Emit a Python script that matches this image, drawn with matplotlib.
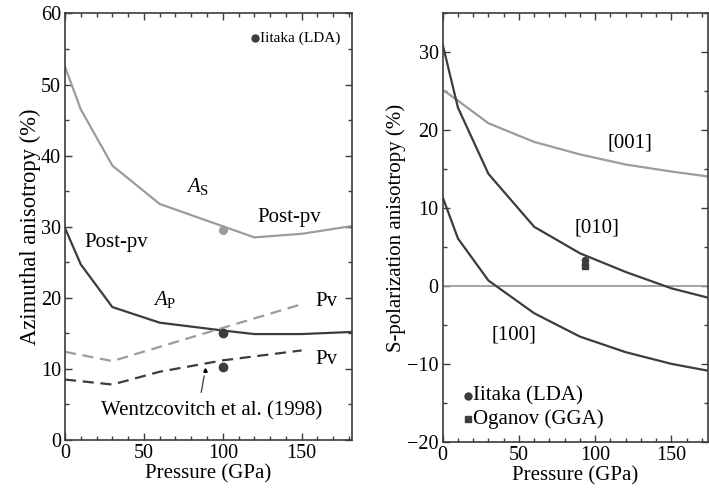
import matplotlib
matplotlib.use("Agg")
import matplotlib.pyplot as plt
from matplotlib.ticker import MultipleLocator, FuncFormatter

plt.rcParams["font.family"] = ["Liberation Serif", "DejaVu Serif"]
plt.rcParams["mathtext.fontset"] = "custom"
plt.rcParams["mathtext.it"] = "Liberation Serif:italic"
plt.rcParams["mathtext.rm"] = "Liberation Serif"

DARK = "#3c3c3c"
GRAY = "#9c9c9c"

# ---- Azimuthal anisotropy (left panel) ----
p_as = [0, 10, 30, 60, 120, 150, 182]
a_s = [52.5, 46.5, 38.6, 33.2, 28.5, 29.0, 30.1]

p_ap = [0, 10, 30, 60, 100, 120, 150, 182]
a_p = [29.8, 24.7, 18.7, 16.5, 15.4, 14.9, 14.9, 15.2]

p_pv_s = [0, 30, 150]
pv_s = [12.4, 11.1, 19.1]

p_pv_p = [0, 30, 60, 100, 150]
pv_p = [8.5, 7.8, 9.6, 11.2, 12.6]

itaka_p = [100, 100]
itaka_ap = [15.0, 10.2]
itaka_as_p = [100]
itaka_as = [29.6]

wentz_p = [88.5]
wentz_v = [9.9]

# ---- S-polarization anisotropy (right panel) ----
p_dir = [0, 10, 30, 60, 90, 120, 150, 180]
s001 = [25.2, 23.8, 20.9, 18.5, 16.9, 15.6, 14.7, 13.9]
s010 = [31.0, 22.9, 14.4, 7.6, 4.2, 1.8, -0.3, -1.8]
s100 = [11.4, 6.1, 0.7, -3.5, -6.5, -8.5, -10.0, -11.1]

itaka_s_p = [93]
itaka_s = [3.3]
oganov_p = [93]
oganov_s = [2.6]

fig = plt.figure(figsize=(7.09, 4.98), dpi=100)
ax1 = fig.add_axes([0.0917, 0.1165, 0.405, 0.8565])
ax2 = fig.add_axes([0.6244, 0.113, 0.3742, 0.860])

lw = 1.6
fs = 15
tfs = 14.5
dash = (0, (5, 3))

# left panel curves
ax1.plot(p_as, a_s, color=GRAY, lw=lw)
ax1.plot(p_ap, a_p, color=DARK, lw=lw)
ax1.plot(p_pv_s, pv_s, color=GRAY, lw=lw, ls=dash)
ax1.plot(p_pv_p, pv_p, color=DARK, lw=lw, ls=dash)
ax1.plot(itaka_as_p, itaka_as, "o", color=GRAY, ms=5.5)
ax1.plot(itaka_p, itaka_ap, "o", color=DARK, ms=6)
ax1.plot(wentz_p, wentz_v, "^", color="black", ms=2.5)
ax1.annotate("", xy=(wentz_p[0], wentz_v[0] - 0.5), xytext=(86, 6.3),
             arrowprops=dict(arrowstyle="-", color=DARK, lw=0.9))

ax1.plot([120.5], [56.5], "o", color=DARK, ms=5)
ax1.text(123.5, 56.5, "Iitaka (LDA)", fontsize=11, va="center", ha="left")

ax1.text(84, 35.6, r"$A_{\mathrm{S}}$", fontsize=fs, ha="center", va="center")
ax1.text(142, 31.3, "Post-pv", fontsize=fs, ha="center", va="center")
ax1.text(12, 27.8, "Post-pv", fontsize=fs, ha="left", va="center")
ax1.text(63, 19.8, r"$A_{\mathrm{P}}$", fontsize=fs, ha="center", va="center")
ax1.text(166, 19.5, "Pv", fontsize=fs, ha="center", va="center")
ax1.text(166, 11.3, "Pv", fontsize=fs, ha="center", va="center")
ax1.text(93, 4.1, "Wentzcovitch et al. (1998)", fontsize=fs, ha="center", va="center")

ax1.set_xlim(0, 182)
ax1.set_ylim(0, 60)
ax1.xaxis.set_major_locator(MultipleLocator(50))
ax1.xaxis.set_minor_locator(MultipleLocator(10))
ax1.yaxis.set_major_locator(MultipleLocator(10))
ax1.yaxis.set_minor_locator(MultipleLocator(5))
ax1.set_xlabel("Pressure (GPa)", fontsize=fs, labelpad=1)
ax1.set_ylabel("Azimuthal anisotropy (%)", fontsize=16.3, labelpad=0)

# right panel curves
ax2.axhline(0, color=GRAY, lw=1.3)
ax2.plot(p_dir, s001, color=GRAY, lw=lw)
ax2.plot(p_dir, s010, color=DARK, lw=lw)
ax2.plot(p_dir, s100, color=DARK, lw=lw)
ax2.plot(itaka_s_p, itaka_s, "o", color=DARK, ms=4.5)
ax2.plot(oganov_p, oganov_s, "s", color=DARK, ms=4.5)

ax2.text(123, 18.3, "[001]", fontsize=fs, ha="center", va="center")
ax2.text(101, 7.4, "[010]", fontsize=fs, ha="center", va="center")
ax2.text(47, -6.3, "[100]", fontsize=fs, ha="center", va="center")

ax2.plot([16.5], [-14.1], "o", color=DARK, ms=5)
ax2.text(20.0, -14.1, "Iitaka (LDA)", fontsize=fs, va="center", ha="left")
ax2.plot([16.5], [-17.1], "s", color=DARK, ms=4.5)
ax2.text(20.0, -17.1, "Oganov (GGA)", fontsize=fs, va="center", ha="left")

ax2.set_xlim(0, 174)
ax2.set_ylim(-20, 35)
ax2.xaxis.set_major_locator(MultipleLocator(50))
ax2.xaxis.set_minor_locator(MultipleLocator(10))
ax2.yaxis.set_major_locator(MultipleLocator(10))
ax2.yaxis.set_minor_locator(MultipleLocator(5))
ax2.set_xlabel("Pressure (GPa)", fontsize=fs, labelpad=1)
ax2.set_ylabel("S-polarization anisotropy (%)", fontsize=fs, labelpad=1)
ax2.yaxis.set_major_formatter(FuncFormatter(
    lambda v, _: f"\u2212{abs(int(v))}" if v < 0 else f"{int(v)}"))

for ax in (ax1, ax2):
    ax.tick_params(which="both", direction="in", top=True, right=True,
                   labelsize=tfs, colors=DARK, labelcolor="black", pad=3)
    ax.tick_params(which="major", length=5, width=1)
    ax.tick_params(which="minor", length=3, width=1)
    for s in ax.spines.values():
        s.set_color(DARK)
        s.set_linewidth(1.2)

fig.savefig("out.png", dpi=100)
